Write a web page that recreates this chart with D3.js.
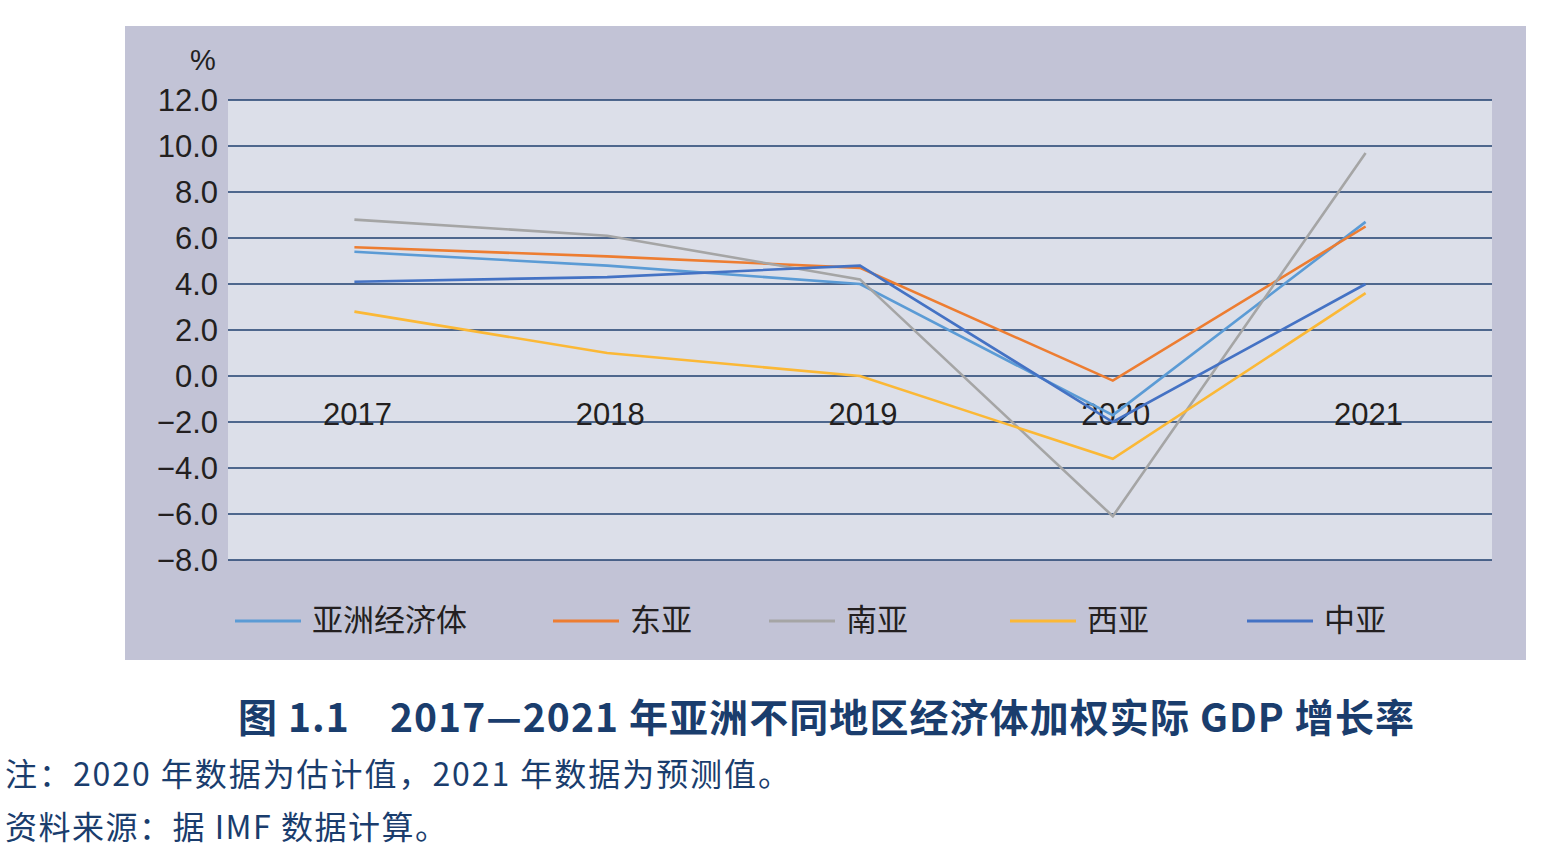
<!DOCTYPE html>
<html><head><meta charset="utf-8">
<script src="https://cdn.jsdelivr.net/npm/d3@7/dist/d3.min.js"></script>
<style>
body{margin:0;background:#fff;}
svg{display:block;}
</style></head>
<body>
<svg id="chart" width="1552" height="864"></svg>
<script>
const years = ["2017","2018","2019","2020","2021"];
const seriesNames = ["亚洲经济体","东亚","南亚","西亚","中亚"];
const asia    = [5.4, 4.8, 4.0, -1.7, 6.7];
const eastAsia= [5.6, 5.2, 4.7, -0.2, 6.5];
const southAsia=[6.8, 6.1, 4.2, -6.1, 9.7];
const westAsia= [2.8, 1.0, 0.0, -3.6, 3.6];
const centralAsia=[4.1, 4.3, 4.8, -2.0, 4.0];
const yTicks = [12,10,8,6,4,2,0,-2,-4,-6,-8];
const colors = ["#5b9bd5","#ed7d31","#a5a5a5","#fbb836","#4472c4"];
const seriesValues = [asia, eastAsia, southAsia, westAsia, centralAsia];

const svg = d3.select("#chart");
const fontSans = "'Noto Sans CJK SC','Noto Sans',sans-serif";
const fontNum = "'Liberation Sans',Arial,sans-serif";
// outer panel
svg.append("rect").attr("x",125).attr("y",26).attr("width",1401).attr("height",634).attr("fill","#c2c3d6");
const plot = {l:228, r:1492, t:100, b:560};
svg.append("rect").attr("x",plot.l).attr("y",plot.t).attr("width",plot.r-plot.l).attr("height",plot.b-plot.t).attr("fill","#dcdfe9");

const x = d3.scaleBand().domain(years).range([plot.l, plot.r]);
const y = d3.scaleLinear().domain([-8,12]).range([plot.b, plot.t]);

// gridlines
svg.append("g").selectAll("line").data(yTicks).join("line")
  .attr("x1",plot.l).attr("x2",plot.r)
  .attr("y1",d=>y(d)).attr("y2",d=>y(d))
  .attr("stroke","#1f3f6e").attr("stroke-width",1.5);

// y labels
const fmt = d => (d<0?"\u2212":"") + Math.abs(d).toFixed(1);
svg.append("g").selectAll("text").data(yTicks).join("text")
  .attr("x",218).attr("y",d=>y(d)).attr("dy","0.36em")
  .attr("text-anchor","end").attr("font-family",fontNum)
  .attr("font-size",31).attr("fill","#231f20").text(fmt);
svg.append("text").attr("x",203).attr("y",70).attr("text-anchor","middle")
  .attr("font-family",fontNum).attr("font-size",29).attr("fill","#231f20").text("%");

// x labels
svg.append("g").selectAll("text").data(years).join("text")
  .attr("x",d=>x(d)+x.bandwidth()/2+3).attr("y",y(0)+49)
  .attr("text-anchor","middle").attr("font-family",fontNum)
  .attr("font-size",31).attr("fill","#231f20").text(d=>d);

// lines
const line = d3.line().x((d,i)=>x(years[i])+x.bandwidth()/2).y(d=>y(d));
svg.append("g").selectAll("path").data(seriesValues).join("path")
  .attr("d",d=>line(d)).attr("fill","none")
  .attr("stroke",(d,i)=>colors[i]).attr("stroke-width",2.6)
  .attr("stroke-linejoin","miter");

// legend
const legX = [235, 553, 769, 1010, 1247];
const lg = svg.append("g").selectAll("g").data(seriesNames).join("g")
  .attr("transform",(d,i)=>`translate(${legX[i]},620)`);
lg.append("line").attr("x1",0).attr("x2",66).attr("y1",1).attr("y2",1)
  .attr("stroke",(d,i)=>colors[i]).attr("stroke-width",3);
lg.append("text").attr("x",77).attr("y",0).attr("dy","0.36em")
  .attr("font-family",fontSans).attr("font-size",31).attr("fill","#231f20").text(d=>d);

// title
svg.append("text").attr("x",238).attr("y",732)
  .attr("font-family",fontSans).attr("font-weight","bold").attr("font-size",39)
  .attr("fill","#1a3d6d").attr("xml:space","preserve")
  .attr("textLength",1176).attr("lengthAdjust","spacing")
  .text("图 1.1\u30002017—2021 年亚洲不同地区经济体加权实际 GDP 增长率");

svg.append("text").attr("x",5).attr("y",786)
  .attr("font-family",fontSans).attr("font-size",32).attr("fill","#1a3d6d")
  .attr("textLength",785).attr("lengthAdjust","spacing")
  .text("注：2020 年数据为估计值，2021 年数据为预测值。");
svg.append("text").attr("x",5).attr("y",839)
  .attr("font-family",fontSans).attr("font-size",32).attr("fill","#1a3d6d")
  .attr("textLength",442).attr("lengthAdjust","spacing")
  .text("资料来源：据 IMF 数据计算。");
</script>
</body></html>
